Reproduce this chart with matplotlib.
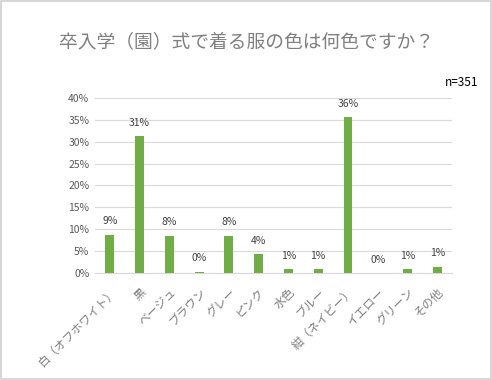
import matplotlib.pyplot as plt
import numpy as np

plt.rcParams['font.family'] = ['Noto Sans CJK JP', 'DejaVu Sans']

categories = ['白（オフホワイト）', '黒', 'ベージュ', 'ブラウン', 'グレー', 'ピンク', '水色',
              'ブルー', '紺（ネイビー）', 'イエロー', 'グリーン', 'その他']
values = [8.7, 31.3, 8.5, 0.3, 8.5, 4.3, 0.8, 0.8, 35.6, 0.0, 0.8, 1.4]
labels = ['9%', '31%', '8%', '0%', '8%', '4%', '1%', '1%', '36%', '0%', '1%', '1%']

fig = plt.figure(figsize=(4.92, 3.80), dpi=100)
ax = fig.add_axes([0.193, 0.282, 0.726, 0.460])

x = np.arange(len(categories))
ax.bar(x, values, width=0.3, color='#70ad47', zorder=3)
for xi, v, lab in zip(x, values, labels):
    ax.annotate(lab, (xi, v), xytext=(0, 6), textcoords='offset points',
                ha='center', va='bottom', fontsize=7.5, color='#404040')

ax.set_ylim(0, 40)
ax.set_xlim(-0.5, len(categories) - 0.5)
ax.set_yticks(np.arange(0, 41, 5))
ax.set_yticklabels([f'{t}%' for t in range(0, 41, 5)], fontsize=7.5, color='#595959')
ax.set_xticks(x)
ax.set_xticklabels(categories, rotation=45, ha='right', rotation_mode='anchor',
                   fontsize=8.5, color='#7f7f7f')
ax.tick_params(axis='y', length=0, pad=4)
ax.tick_params(axis='x', length=0, pad=9)
ax.grid(axis='y', color='#d9d9d9', linewidth=0.8, zorder=0)
for s in ['top', 'right', 'left']:
    ax.spines[s].set_visible(False)
ax.spines['bottom'].set_color('#d9d9d9')

fig.text(0.5, 0.89, '卒入学（園）式で着る服の色は何色ですか？', ha='center', va='center',
         fontsize=13.5, color='#7f7f7f')
fig.text(0.972, 0.783, 'n=351', ha='right', va='center', fontsize=8.5, color='black')

fig.patches.append(plt.Rectangle((0.002, 0.003), 0.995, 0.994, transform=fig.transFigure,
                                 fill=False, edgecolor='#d0d0d0', linewidth=1.2))

fig.savefig('out.png', dpi=100)
